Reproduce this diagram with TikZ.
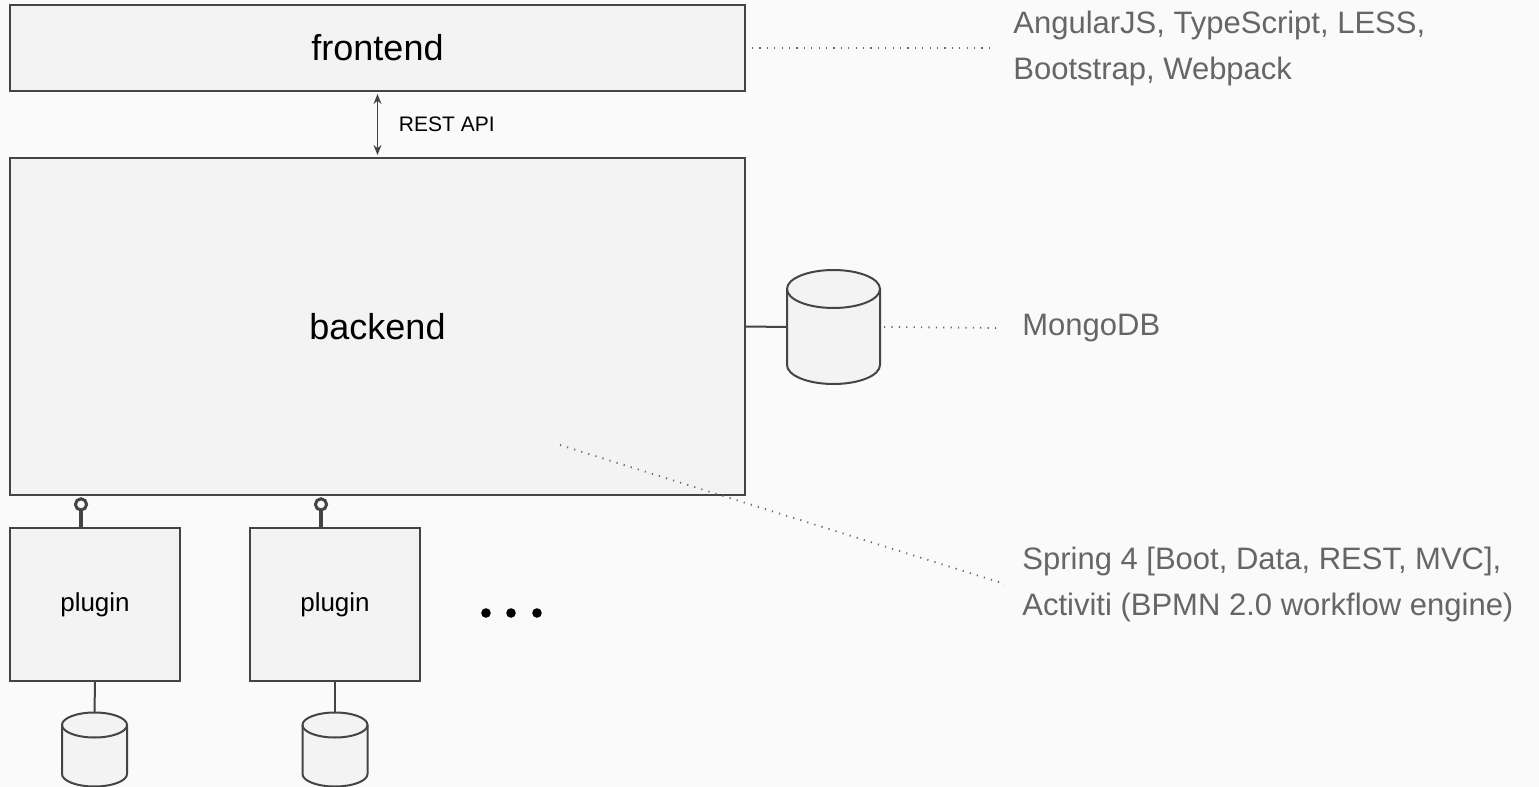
\documentclass[tikz,border=0pt]{standalone}
\usepackage{fontspec}
\setmainfont{Liberation Sans}
\usetikzlibrary{arrows.meta,positioning}

\definecolor{pagebg}{HTML}{FAFAFA}
\definecolor{boxfill}{HTML}{F3F3F3}
\definecolor{edge}{HTML}{444444}
\definecolor{notegray}{HTML}{666666}

\tikzset{
  box/.style={draw=edge,fill=boxfill,line width=1pt,inner sep=0pt},
  drumspot/.style={inner sep=0pt,outer sep=0pt},
  drumline/.style={draw=edge,fill=boxfill,line width=1pt},
  note/.style={anchor=west,inner sep=0pt,text=notegray,align=left,
    font=\fontsize{15.5}{23}\selectfont},
  dotline/.style={draw=edge!80,line width=0.9pt,dash pattern=on 0.6pt off 3.1pt},
  wire/.style={draw=edge,line width=1pt},
}
% drum (database) outline round a named node: #1 node, #2 x radius, #3 y radius
\newcommand{\drawdrum}[3]{%
  \draw[drumline] ([yshift=-#3]#1.north west) -- ([yshift=#3]#1.south west)
    arc[start angle=180,end angle=360,x radius=#2,y radius=#3]
    -- ([yshift=-#3]#1.north east)
    arc[start angle=0,end angle=180,x radius=#2,y radius=#3] -- cycle;
  \draw[drumline,fill=none] ([yshift=-#3]#1.north west)
    arc[start angle=180,end angle=360,x radius=#2,y radius=#3];
}

\begin{document}
\begin{tikzpicture}[x=0.5pt,y=-0.5pt]
\fill[pagebg] (0,0) rectangle (1539,787);
\useasboundingbox (0,0) rectangle (1539,787);
%
\node[box,minimum width=367.5pt,minimum height=43pt,font=\fontsize{18}{22}\selectfont]
  (frontend) at (377.5,48) {frontend};
\node[box,minimum width=367.5pt,minimum height=168.5pt,font=\fontsize{18}{22}\selectfont]
  (backend) at (377.5,326.5) {backend};
\node[box,minimum width=85pt,minimum height=76.5pt,font=\fontsize{13}{16}\selectfont]
  (plugin1) at (95,604.5) {plugin};
\node[box,minimum width=85pt,minimum height=76.5pt,font=\fontsize{13}{16}\selectfont]
  (plugin2) at (335,604.5) {plugin};
%
\node[drumspot,minimum width=46.5pt,minimum height=57pt] (mongo) at (833.5,327) {};
\node[drumspot,minimum width=32.5pt,minimum height=37pt] (db1) at (94.5,749.5) {};
\node[drumspot,minimum width=32.5pt,minimum height=37pt] (db2) at (335,749.5) {};
\drawdrum{mongo}{23.25pt}{9.5pt}
\drawdrum{db1}{16.25pt}{6.25pt}
\drawdrum{db2}{16.25pt}{6.25pt}
%
\node[note] (angular) at (1013,48) {AngularJS, TypeScript, LESS,\\Bootstrap, Webpack};
\node[note] (mongolabel) at (1022,328) {MongoDB};
\node[note] (spring) at (1022,584) {Spring 4 [Boot, Data, REST, MVC],\\Activiti (BPMN 2.0 workflow engine)};
%
% REST API
\draw[edge,line width=0.8pt,{Stealth[length=5pt,width=4pt]}-{Stealth[length=5pt,width=4pt]}]
  ([yshift=-1pt]frontend.south) -- ([yshift=1pt]backend.north)
  node[midway,right=7pt,font=\fontsize{10.5}{12}\selectfont,text=black] (restapi) {REST API};
%
\draw[wire] (backend.east) -- (mongo.west);
\draw[wire] (plugin1.south) -- (db1.north);
\draw[wire] (plugin2.south) -- (db2.north);
%
% lollipops
\foreach \p in {1,2}{
  \coordinate (stem\p) at ([xshift=-7pt]plugin\p.north);
  \draw[edge,line width=1.7pt] (stem\p) -- ++(0,-17) coordinate (ring\p);
  \draw[edge,line width=1.5pt,fill=pagebg] ([yshift=2.8pt]ring\p) circle[radius=2.8pt];
}
%
\foreach \x in {486,511,537}\fill (\x,613) circle[radius=2.4pt];
%
\coordinate (springtip) at (560,445);
\draw[dotline] ([xshift=3pt]frontend.east) -- ([xshift=-9pt]angular.west);
\draw[dotline] ([xshift=2pt]mongo.east) -- ([xshift=-11pt]mongolabel.west);
\draw[dotline] (springtip) -- ([xshift=-8.5pt]spring.west);
\end{tikzpicture}
\end{document}
